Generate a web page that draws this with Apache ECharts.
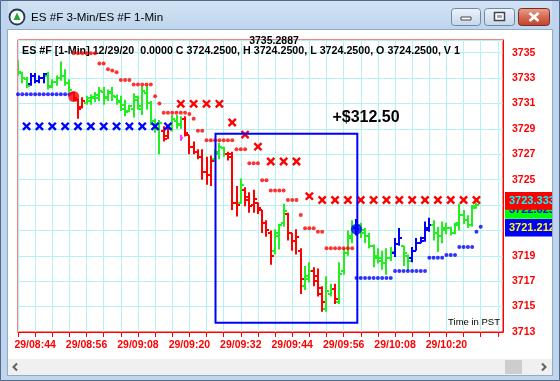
<!DOCTYPE html>
<html><head><meta charset="utf-8">
<script src="https://cdn.jsdelivr.net/npm/echarts@6/dist/echarts.min.js"></script>
<style>html,body{margin:0;padding:0;background:#fff}#c{width:560px;height:381px}</style>
</head><body><div id="c"></div>
<script>
// ---- time axis (minutes after 08:40) ----
const startMinuteOfDay = 8 * 60 + 40;
const axisMaxMinute = 113.2;
const tickEvery = 4;
const labelEvery = 12;
const labelOffset = 4;
const lastLabelMinute = 100;
// ---- price axis ----
const priceMin = 3713, priceMax = 3736, priceStep = 2;

// ---- 1-min OHLC bars, index = minute ----
const barColors = ['G','G','G','B','B','B','B','G','G','G', 'G','G','G','R','R','R','G','G','G','G',
 'G','G','G','G','G','G','G','G','G','G', 'G','G','G','G','R','R','G','G','G','R',
 'R','R','R','R','R','R','G','G','G','R', 'R','R','G','R','R','R','R','R','R','R',
 'G','G','G','R','R','R','R','G','G','R', 'R','R','G','G','R','G','G','G','G','B',
 'G','G','G','G','G','G','G','G','B','B', 'G','G','B','B','B','B','B','G','G','G',
 'G','G','G','G','G','G','G','G'];
const opens = [3734.2,3733.4,3732.9,3732.5,3733.2,3732.8,3733.0,3733.2,3732.4,3732.7,
 3733.0,3733.2,3732.6,3731.8,3731.3,3730.7,3731.0,3731.2,3731.4,3731.4,
 3731.9,3731.5,3731.8,3731.5,3731.2,3730.9,3730.4,3730.6,3731.3,3730.6,
 3731.8,3731.0,3729.6,3729.0,3728.8,3728.4,3729.0,3729.6,3729.4,3729.8,
 3728.5,3727.6,3727.2,3726.8,3725.6,3725.4,3726.6,3727.0,3727.5,3727.0,
 3727.0,3723.2,3723.2,3724.2,3723.6,3723.0,3723.2,3722.6,3721.6,3720.8,
 3719.4,3720.6,3721.6,3722.3,3720.8,3720.2,3719.4,3716.6,3717.2,3717.8,
 3717.4,3716.0,3714.8,3716.0,3716.4,3715.4,3717.8,3719.2,3720.6,3721.2,
 3721.4,3720.8,3720.6,3719.8,3719.0,3718.8,3718.4,3718.8,3719.2,3719.9,
 3719.8,3719.0,3718.8,3719.4,3720.0,3720.4,3721.0,3721.4,3720.8,3720.6,
 3721.0,3721.2,3720.8,3721.6,3722.2,3721.8,3721.4,3722.9];
const highs = [3734.4,3733.5,3733.1,3733.4,3733.4,3733.2,3733.4,3733.5,3732.9,3733.2,
 3734.3,3733.7,3732.9,3731.9,3731.4,3731.5,3731.6,3731.7,3731.9,3732.3,
 3732.3,3732.1,3732.3,3731.7,3731.6,3731.3,3730.9,3731.8,3731.6,3732.4,
 3732.4,3731.2,3729.8,3729.7,3729.2,3729.1,3730.1,3730.1,3730.0,3730.0,
 3728.5,3728.0,3727.4,3727.4,3726.8,3726.9,3727.4,3727.9,3727.6,3727.2,
 3727.2,3724.5,3725.1,3724.4,3724.0,3724.2,3723.2,3722.6,3721.8,3721.0,
 3721.1,3721.5,3723.1,3722.4,3720.8,3721.1,3719.6,3718.2,3718.5,3718.1,
 3718.0,3716.6,3717.4,3716.8,3716.8,3718.5,3719.6,3721.0,3721.8,3721.9,
 3721.6,3721.2,3720.8,3719.9,3719.6,3719.4,3719.6,3719.7,3720.4,3721.2,
 3719.8,3719.1,3719.7,3720.4,3720.5,3721.7,3722.0,3721.8,3721.3,3721.7,
 3721.6,3721.3,3721.6,3723.1,3722.6,3722.2,3723.0,3723.2];
const lows = [3733.2,3732.6,3732.2,3732.4,3732.6,3732.6,3732.6,3732.1,3732.2,3732.4,
 3732.8,3732.4,3731.9,3731.2,3729.8,3730.6,3730.9,3730.9,3731.1,3731.2,
 3730.9,3731.2,3731.2,3730.9,3730.4,3730.0,3730.3,3729.9,3730.5,3730.1,
 3730.5,3729.3,3728.7,3727.0,3728.0,3728.2,3728.8,3729.0,3729.0,3728.4,
 3727.0,3727.0,3726.6,3725.0,3724.6,3724.5,3726.4,3726.6,3726.8,3726.5,
 3722.6,3722.1,3723.1,3722.9,3722.4,3722.4,3722.3,3720.8,3720.5,3718.3,
 3719.1,3719.5,3721.3,3720.2,3719.4,3719.1,3716.0,3716.3,3716.9,3716.6,
 3715.8,3714.6,3714.6,3715.8,3715.2,3715.2,3717.5,3719.0,3720.0,3720.6,
 3720.4,3720.0,3719.6,3718.1,3718.4,3717.9,3717.5,3718.6,3718.9,3719.8,
 3718.2,3717.9,3718.5,3719.4,3720.0,3720.1,3720.9,3720.2,3719.3,3720.0,
 3720.7,3720.6,3720.7,3721.0,3721.5,3721.2,3721.3,3722.7];
const closes = [3733.5,3733.0,3732.4,3733.2,3732.8,3733.0,3733.3,3732.3,3732.7,3733.0,
 3733.2,3732.6,3732.1,3731.4,3730.6,3731.2,3731.4,3731.5,3731.7,3732.0,
 3731.4,3731.9,3731.6,3731.1,3730.6,3730.3,3730.8,3731.5,3730.8,3732.0,
 3731.0,3729.6,3729.0,3729.5,3728.2,3729.0,3729.8,3729.3,3729.8,3728.7,
 3727.6,3727.2,3726.8,3725.6,3725.4,3726.5,3727.2,3727.6,3727.0,3726.8,
 3723.2,3723.0,3724.6,3723.4,3722.9,3723.5,3722.8,3721.6,3721.0,3719.0,
 3720.8,3721.4,3722.5,3720.8,3720.2,3720.5,3717.2,3717.4,3717.8,3717.0,
 3716.5,3715.4,3716.2,3716.4,3715.6,3717.6,3719.2,3720.4,3721.3,3721.1,
 3721.0,3720.6,3719.8,3718.8,3718.6,3718.4,3718.8,3719.3,3719.9,3720.4,
 3719.2,3718.6,3719.4,3720.0,3720.2,3721.2,3721.4,3720.8,3720.6,3721.2,
 3721.2,3720.8,3721.4,3722.2,3721.8,3721.4,3722.8,3723.0];

// ---- trailing stop dots ----
const redDotMinutes = [13,14,15,16,17,18,19,20,21,22,23,24,25,26,27,28,29,30,31,32,33,34,35,36,37,38,39,40,41,42,43,
 44,45,46,47,48,49,50,51,52,53,54,55,56,57,58,59,60,61,62,63,64,65,66,67,68,69,70,71,72,73,74,75,76,77,78];
const redDotValues = [3734.95,3734.95,3734.95,3734.95,3734.95,3734.95,3734.15,3734.15,3733.7,3733.6,3733.45,3732.85,3732.85,3732.85,
 3732.5,3732.5,3732.5,3732.5,3732.5,3731.57,3731.0,3730.26,3730.26,3730.26,3730.26,3730.26,3730.26,3730.17,3729.8,3728.86,3728.86,
 3728.1,3728.1,3728.1,3728.1,3728.1,3728.1,3728.1,3727.4,3727.4,3727.4,3726.3,3726.3,3726.3,3724.95,3724.95,3724.14,3724.14,3724.14,3724.14,
 3723.4,3723.4,3723.4,3722.22,3721.17,3721.17,3721.17,3720.9,3720.9,3719.6,3719.6,3719.6,3719.6,3719.6,3719.6,3719.6];
const blueDotMinutes = [0,1,2,3,4,5,6,7,8,9,10,11,12, 79,80,81,82,83,84,85,86,87, 88,89,90,91,92,93,94,95,
 96,97,98,99, 100,101,102, 103,104,105,106, 107,108];
const blueDotValues = [3731.73,3731.73,3731.73,3731.73,3731.73,3731.73,3731.73,3731.73,3731.73,3731.73,3731.73,3731.73,3731.73,
 3717.26,3717.26,3717.26,3717.26,3717.26,3717.26,3717.26,3717.26,3717.26,
 3717.8,3717.8,3717.8,3717.8,3717.8,3717.8,3717.8,3717.8,
 3718.84,3718.84,3718.84,3718.84, 3719.06,3719.06,3719.06, 3719.7,3719.7,3719.7,3719.7, 3720.9,3721.3];

// ---- 3-min stop crosses ----
const redXMinutes = [38,41,44,47,50,53,56,59,62,65,68,71,74,77,80,83,86,89,92,95,98,101,104,107];
const redXValues = [3730.97,3730.97,3730.97,3730.97,3729.5,3728.55,3727.6,3726.43,3726.43,3726.43,3723.7,
 3723.4,3723.4,3723.4,3723.4,3723.4,3723.4,3723.4,3723.4,3723.4,3723.4,3723.4,3723.4,3723.4];
const blueXMinutes = [2,5,8,11,14,17,20,23,26,29,32,35];
const blueXValues = [3729.2,3729.2,3729.2,3729.2,3729.2,3729.2,3729.2,3729.2,3729.2,3729.2,3729.2,3729.2];

// ---- trade markers ----
const entryMarker = [13, 3731.55];
const exitMarker = [79, 3721.1];
const pinkMarker = [38, 3728.3];
const tradeBoxMinutes = [46.1, 79.2];
const tradeBoxPrices = [3728.62, 3713.73];

// ---- right-side price tags (drawn in order) ----
const tagValues = [3722.62, 3723.33, 3721.21];
const tagTexts = ['3722.6250', '3723.3333', '3721.2125'];
const tagFills = ['#00ff00', '#ff0000', '#0000ff'];
const tagInk = ['#0000ff', '#00ffff', '#ffff00'];

const palette = { G: '#22ee22', R: '#ff0000', B: '#0000ff' };
const pad = n => (n < 10 ? '0' : '') + n;

const chart = echarts.init(document.getElementById('c'), null, { renderer: 'canvas' });
const FONT = 'Arial, "Liberation Sans", sans-serif';

const barData = opens.map((o, i) => [i, o, highs[i], lows[i], closes[i]]);

function crossItem(color) {
  return function (params, api) {
    const p = api.coord([api.value(0), api.value(1)]);
    const s = 3.6;
    return { type: 'group', children: [
      { type: 'line', shape: { x1: p[0] - s, y1: p[1] - s, x2: p[0] + s, y2: p[1] + s }, style: { stroke: color, lineWidth: 2.4 } },
      { type: 'line', shape: { x1: p[0] - s, y1: p[1] + s, x2: p[0] + s, y2: p[1] - s }, style: { stroke: color, lineWidth: 2.4 } }
    ] };
  };
}

const option = {
  animation: false,
  backgroundColor: '#ffffff',
  grid: { left: 18, right: 57, top: 40, bottom: 49, show: true, borderColor: '#ff0000', borderWidth: 1, backgroundColor: '#ffffff' },
  xAxis: {
    type: 'value', min: 0, max: axisMaxMinute, interval: tickEvery,
    axisLine: { show: true, lineStyle: { color: '#ff0000', width: 1 } },
    axisTick: { show: true, length: 5, lineStyle: { color: '#ff0000' } },
    splitLine: { show: true, lineStyle: { color: '#b4f2f2', width: 1 } },
    axisLabel: {
      margin: 8, color: '#ff0000', fontWeight: 'bold', fontSize: 10.5, fontFamily: FONT,
      showMaxLabel: false,
      formatter: v => {
        const r = Math.round(v);
        if (Math.abs(v - r) > 1e-6 || r > lastLabelMinute || ((r - labelOffset) % labelEvery) !== 0) return '';
        const t = startMinuteOfDay + r;
        return '29/' + pad(Math.floor(t / 60)) + ':' + pad(t % 60);
      }
    }
  },
  yAxis: [
    { type: 'value', min: priceMin, max: priceMax, position: 'right', show: false, splitLine: { show: false } },
    {
      type: 'value', min: 0, max: priceMax - priceMin, interval: priceStep, position: 'right',
      axisLine: { show: true, lineStyle: { color: '#ff0000' } },
      axisTick: { show: false },
      splitLine: { show: true, lineStyle: { color: '#b4f2f2', width: 1 } },
      axisLabel: { margin: 9, color: '#ff0000', fontWeight: 'bold', fontSize: 10.5, fontFamily: FONT,
        showMaxLabel: false, formatter: v => String(v + priceMin) }
    }
  ],
  series: [
    {
      type: 'custom', name: 'bars', yAxisIndex: 0, z: 2, clip: true,
      renderItem: function (params, api) {
        const m = api.value(0);
        const pH = api.coord([m, api.value(2)]);
        const pL = api.coord([m, api.value(3)]);
        const pO = api.coord([m, api.value(1)]);
        const pC = api.coord([m, api.value(4)]);
        const color = palette[barColors[params.dataIndex]];
        const x = Math.round(pH[0]);
        return { type: 'group', children: [
          { type: 'rect', shape: { x: x - 1, y: pH[1], width: 2, height: Math.max(1, pL[1] - pH[1]) }, style: { fill: color } },
          { type: 'rect', shape: { x: x - 3, y: Math.round(pO[1]) - 1, width: 3, height: 2 }, style: { fill: color } },
          { type: 'rect', shape: { x: x, y: Math.round(pC[1]) - 1, width: 3, height: 2 }, style: { fill: color } }
        ] };
      },
      data: barData
    },
    {
      type: 'scatter', name: 'red stop', yAxisIndex: 0, z: 3, symbol: 'circle', symbolSize: 4,
      itemStyle: { color: '#ff0000' }, data: redDotMinutes.map((m, i) => [m, redDotValues[i]])
    },
    {
      type: 'scatter', name: 'blue stop', yAxisIndex: 0, z: 3, symbol: 'circle', symbolSize: 4,
      itemStyle: { color: '#0000ff' }, data: blueDotMinutes.map((m, i) => [m, blueDotValues[i]])
    },
    { type: 'custom', name: 'red x', yAxisIndex: 0, z: 3, renderItem: crossItem('#ff0000'), data: redXMinutes.map((m, i) => [m, redXValues[i]]) },
    { type: 'custom', name: 'blue x', yAxisIndex: 0, z: 3, renderItem: crossItem('#0000ff'), data: blueXMinutes.map((m, i) => [m, blueXValues[i]]) },
    {
      type: 'custom', name: 'pink', yAxisIndex: 0, z: 3,
      renderItem: function (params, api) {
        const p = api.coord([api.value(0), api.value(1)]);
        const x = Math.round(p[0]);
        return { type: 'group', children: [
          { type: 'rect', shape: { x: x - 1, y: p[1] - 3, width: 2, height: 6 }, style: { fill: '#ff33ff' } },
          { type: 'rect', shape: { x: x, y: p[1] - 1, width: 2, height: 2 }, style: { fill: '#ff33ff' } }
        ] };
      },
      data: [pinkMarker]
    },
    {
      type: 'custom', name: 'trade box', yAxisIndex: 0, z: 4,
      renderItem: function (params, api) {
        const a = api.coord([api.value(0), api.value(1)]);
        const b = api.coord([api.value(2), api.value(3)]);
        return { type: 'rect', shape: { x: a[0], y: a[1], width: b[0] - a[0], height: b[1] - a[1] },
          style: { fill: null, stroke: '#0000ff', lineWidth: 2 } };
      },
      data: [[tradeBoxMinutes[0], tradeBoxPrices[0], tradeBoxMinutes[1], tradeBoxPrices[1]]]
    },
    { type: 'scatter', name: 'entry', yAxisIndex: 0, z: 5, symbolSize: 11, itemStyle: { color: '#ff0000' }, data: [entryMarker] },
    { type: 'scatter', name: 'exit', yAxisIndex: 0, z: 5, symbolSize: 11, itemStyle: { color: '#0000ff' }, data: [exitMarker] },
    {
      type: 'custom', name: 'tags', yAxisIndex: 0, z: 6, clip: false,
      renderItem: function (params, api) {
        const p = api.coord([0, api.value(0)]);
        const cs = params.coordSys;
        const x0 = cs.x + cs.width + 2;
        const i = params.dataIndex;
        return { type: 'group', children: [
          { type: 'rect', shape: { x: x0, y: p[1] - 8.8, width: 60, height: 17.6 }, style: { fill: tagFills[i] } },
          { type: 'text', style: { x: x0 + 4, y: p[1] + 0.5, text: tagTexts[i], fill: tagInk[i], font: 'bold 11px ' + FONT, verticalAlign: 'middle', align: 'left' } }
        ] };
      },
      data: tagValues.map(v => [v])
    }
  ],
  graphic: [
    { type: 'text', z: 1, left: 22, top: 46, style: { text: 'ES #F [1-Min] 12/29/20  0.0000 C 3724.2500, H 3724.2500, L 3724.2500, O 3724.2500, V 1', fill: '#000', font: 'bold 10.7px ' + FONT } },
    { type: 'text', z: 7, x: 274, y: 41, style: { text: '3735.2887', fill: '#000', font: 'bold 10.5px ' + FONT, align: 'center', verticalAlign: 'middle' } },
    { type: 'text', z: 7, x: 366, y: 118, style: { text: '+$312.50', fill: '#000', font: 'bold 16px ' + FONT, align: 'center', verticalAlign: 'middle' } },
    { type: 'text', z: 7, x: 500, y: 322, style: { text: 'Time in PST', fill: '#000', font: '9.5px ' + FONT, align: 'right', verticalAlign: 'middle' } },
    // window chrome
    { type: 'rect', z: 100, shape: { x: 0, y: 0, width: 560, height: 30 }, style: { fill: new echarts.graphic.LinearGradient(0, 0, 0, 1, [{ offset: 0, color: '#d3e3f4' }, { offset: 1, color: '#bed5ed' }]) } },
    { type: 'rect', z: 100, shape: { x: 0, y: 0, width: 8, height: 381 }, style: { fill: '#bed5ed' } },
    { type: 'rect', z: 100, shape: { x: 552, y: 0, width: 8, height: 381 }, style: { fill: '#bed5ed' } },
    { type: 'rect', z: 100, shape: { x: 0, y: 375, width: 560, height: 6 }, style: { fill: '#bed5ed' } },
    { type: 'rect', z: 101, shape: { x: 0.5, y: 0.5, width: 559, height: 380 }, style: { fill: null, stroke: '#53698a', lineWidth: 1 } },
    { type: 'rect', z: 101, shape: { x: 7.5, y: 29.5, width: 545, height: 346 }, style: { fill: null, stroke: '#93abc6', lineWidth: 1 } },
    // scrollbar
    { type: 'rect', z: 100, shape: { x: 8, y: 359, width: 544, height: 16 }, style: { fill: '#f0f0f0' } },
    { type: 'polyline', z: 101, shape: { points: [[17, 363.5], [13.5, 367], [17, 370.5]] }, style: { fill: null, stroke: '#606060', lineWidth: 2 } },
    { type: 'polyline', z: 101, shape: { points: [[542, 363.5], [545.5, 367], [542, 370.5]] }, style: { fill: null, stroke: '#606060', lineWidth: 2 } },
    { type: 'rect', z: 101, shape: { x: 505, y: 360, width: 17, height: 14 }, style: { fill: '#cdcdcd' } },
    // title
    { type: 'circle', z: 101, shape: { cx: 17, cy: 17, r: 7.5 }, style: { fill: '#ffffff', stroke: '#1f3b4d', lineWidth: 1.8 } },
    { type: 'polygon', z: 102, shape: { points: [[17, 12.5], [20.5, 20], [13.5, 20]] }, style: { fill: '#22aa33' } },
    { type: 'text', z: 101, x: 31, y: 18, style: { text: 'ES #F 3-Min/ES #F 1-Min', fill: '#000', font: '11.6px ' + FONT, verticalAlign: 'middle' } },
    { type: 'rect', z: 101, shape: { x: 451.5, y: 8.5, width: 29, height: 17, r: 3 }, style: { fill: new echarts.graphic.LinearGradient(0, 0, 0, 1, [{ offset: 0, color: '#eef3fa' }, { offset: 1, color: '#c5d6ea' }]), stroke: '#6f86a6' } },
    { type: 'rect', z: 102, shape: { x: 461, y: 17, width: 10, height: 3 }, style: { fill: '#fff', stroke: '#444', lineWidth: 1 } },
    { type: 'rect', z: 101, shape: { x: 484.5, y: 8.5, width: 30, height: 17, r: 3 }, style: { fill: new echarts.graphic.LinearGradient(0, 0, 0, 1, [{ offset: 0, color: '#eef3fa' }, { offset: 1, color: '#c5d6ea' }]), stroke: '#6f86a6' } },
    { type: 'rect', z: 102, shape: { x: 494.5, y: 12.5, width: 10, height: 8 }, style: { fill: '#fff', stroke: '#444', lineWidth: 1.5 } },
    { type: 'rect', z: 102, shape: { x: 497, y: 15, width: 5, height: 3 }, style: { fill: '#9aa7b8' } },
    { type: 'rect', z: 101, shape: { x: 518.5, y: 8.5, width: 31, height: 17, r: 3 }, style: { fill: new echarts.graphic.LinearGradient(0, 0, 0, 1, [{ offset: 0, color: '#e8a493' }, { offset: 0.5, color: '#d46a52' }, { offset: 1, color: '#c1412a' }]), stroke: '#7a2c22' } },
    { type: 'line', z: 102, shape: { x1: 529.5, y1: 13, x2: 538.5, y2: 21 }, style: { stroke: '#ffffff', lineWidth: 2.6 } },
    { type: 'line', z: 102, shape: { x1: 529.5, y1: 21, x2: 538.5, y2: 13 }, style: { stroke: '#ffffff', lineWidth: 2.6 } }
  ]
};
chart.setOption(option);
</script>
</body></html>
